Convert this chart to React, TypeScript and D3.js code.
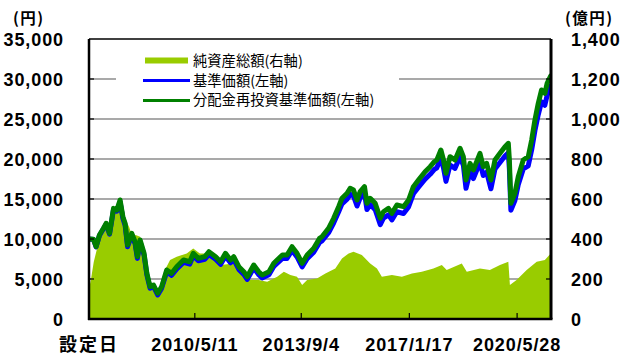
import React from "react";
import * as d3 from "d3";

// ---- data ----
const navDates = [
  "2007-01-22","2007-03-14","2007-04-13","2007-05-21","2007-07-06","2007-08-05","2007-09-13","2007-10-28","2007-12-05",
  "2008-01-11","2008-02-12","2008-03-08","2008-04-05","2008-05-23","2008-06-29","2008-07-26","2008-08-26","2008-10-10","2008-11-11","2008-12-17",
  "2009-01-26","2009-03-14","2009-04-28","2009-06-25","2009-08-20","2009-10-17",
  "2010-01-02","2010-03-15","2010-04-23","2010-06-20","2010-09-03","2010-10-18",
  "2011-01-03","2011-02-28","2011-04-25","2011-06-21","2011-07-28","2011-09-24","2011-11-20","2011-12-28",
  "2012-03-12","2012-05-08","2012-06-16","2012-09-01","2012-10-26",
  "2013-02-01","2013-03-26","2013-05-22","2013-07-18","2013-09-14","2013-11-10",
  "2014-01-24","2014-04-01","2014-04-28","2014-07-12","2014-09-08","2014-11-04","2014-12-12",
  "2015-02-08","2015-03-15","2015-04-22","2015-06-01","2015-07-07","2015-08-25","2015-09-22","2015-10-29","2015-12-25",
  "2016-02-21","2016-03-28","2016-05-24","2016-07-02","2016-08-28","2016-11-12",
  "2017-01-08","2017-03-04","2017-05-01","2017-07-15","2017-09-11","2017-10-29","2017-11-26",
  "2018-01-11","2018-02-10","2018-03-10","2018-04-25","2018-06-21","2018-08-17","2018-09-24","2018-10-24","2018-12-09",
  "2019-01-16","2019-04-01","2019-05-08","2019-06-16","2019-08-04","2019-09-19","2019-11-15",
  "2020-01-11","2020-02-18","2020-03-01","2020-03-18","2020-05-03","2020-06-10","2020-08-06","2020-10-02","2020-11-10","2020-12-17",
  "2021-01-24","2021-03-02","2021-04-09","2021-05-05","2021-06-15"
];

// 分配金再投資基準価額 (円)
const reinvValues = [
  10000,9960,9040,10500,11340,11960,10710,13830,13620,
  14875,12790,11960,9250,10710,9660,7790,9875,8210,5710,4040,
  4250,3210,4040,6125,5710,6540,
  7375,7160,8210,7580,7790,8410,
  7790,7160,8210,7375,7790,6540,5910,5290,
  6750,5910,5500,5910,6960,
  8000,8000,9040,8210,6960,8000,
  8830,10080,10290,11340,12590,14040,15090,
  15710,16340,16125,14875,15910,16540,14460,15090,14460,
  12590,13410,13830,13210,14250,14040,
  14875,16540,17375,18410,19040,19660,19875,
  21125,19875,18210,20290,19875,21340,20290,17375,19460,
  18625,20710,19040,19460,17375,19875,20710,
  21540,21960,19875,14460,15710,17790,19875,20290,22375,24875,
  26960,28625,28210,29460,30400
];

// 基準価額 (円)
const navValues = [
  10000,9940,9010,10440,11260,11860,10610,13680,13470,
  14650,12560,11730,9030,10480,9440,7580,9640,7990,5510,3850,
  4050,3010,3830,5880,5460,6270,
  7080,6860,7900,7270,7470,8080,
  7460,6830,7860,7030,7440,6200,5570,4950,
  6370,5530,5120,5520,6560,
  7580,7570,8590,7760,6510,7530,
  8340,9560,9760,10780,11990,13400,14400,
  14990,15590,15370,14120,15130,15750,13680,14300,13660,
  11800,12600,13010,12380,13410,13190,
  14010,15650,16460,17480,18090,18700,18900,
  20120,18860,17200,19250,18830,20270,19220,16330,18380,
  17550,19600,17940,18350,16280,18760,19560,
  20370,20770,18730,13600,14800,16790,18760,19150,21150,23550,
  25560,27150,26720,27950,29100
];

// 純資産総額 (億円)
const assetDates = [
  "2007-01-22","2007-02-14","2007-03-17","2007-04-28","2007-06-05","2007-08-02","2007-09-08","2007-11-04",
  "2008-01-02","2008-01-28","2008-03-15","2008-04-22","2008-06-01","2008-07-07","2008-08-26","2008-10-22","2008-11-29",
  "2009-01-26","2009-03-22","2009-06-05","2009-08-02","2009-10-17",
  "2010-02-08","2010-04-23","2010-07-08","2010-11-07",
  "2011-02-28","2011-07-28","2011-11-20",
  "2012-02-05","2012-05-08","2012-08-12","2012-12-04",
  "2013-02-18","2013-05-03","2013-07-18","2013-09-14","2013-11-10",
  "2014-03-02","2014-06-06","2014-09-27","2014-12-12",
  "2015-02-26","2015-04-22","2015-07-26","2015-10-29",
  "2016-01-14","2016-03-10","2016-07-02","2016-10-24",
  "2017-02-16","2017-06-08","2017-10-18",
  "2018-01-22","2018-03-18","2018-09-06","2018-11-02",
  "2019-04-01","2019-07-23","2019-11-15",
  "2020-02-18","2020-03-07","2020-05-22","2020-09-14",
  "2021-01-06","2021-04-09","2021-06-16"
];
const assetValues = [
  150,200,285,360,410,445,410,528,
  595,605,495,461,411,420,411,295,211,
  161,120,245,295,311,
  328,353,328,328,
  270,278,220,
  195,195,186,211,
  236,220,211,170,195,
  203,228,253,303,
  328,336,320,278,
  253,211,220,211,
  228,236,253,
  270,245,278,236,
  253,245,270,
  286,170,195,245,
  286,295,328
];

const leftTicks = [0, 5000, 10000, 15000, 20000, 25000, 30000, 35000];
const rightTicks = [0, 200, 400, 600, 800, 1000, 1200, 1400];
const xTickDates = ["2007-01-22", "2010-05-11", "2013-09-04", "2017-01-17", "2020-05-28"];
const xTickLabels = ["設定日", "2010/5/11", "2013/9/4", "2017/1/17", "2020/5/28"];
const legendLabels = ["純資産総額(右軸)", "基準価額(左軸)", "分配金再投資基準価額(左軸)"];

const parse = d3.timeParse("%Y-%m-%d");

export default function App() {
  const W = 633, H = 358;
  const L = 89, R = 551, T = 39, B = 319;
  const x = d3.scaleTime().domain([parse("2007-01-22")!, parse("2021-06-18")!]).range([L, R]);
  const yL = d3.scaleLinear().domain([0, 35000]).range([B, T]);
  const yR = d3.scaleLinear().domain([0, 1400]).range([B, T]);

  const navPts = navDates.map((d, i) => ({ d: parse(d)!, nav: navValues[i], re: reinvValues[i] }));
  const assetPts = assetDates.map((d, i) => ({ d: parse(d)!, v: assetValues[i] }));

  const area = d3.area<any>().x(p => x(p.d)).y0(yR(0)).y1(p => yR(p.v));
  const navLine = d3.line<any>().x(p => x(p.d)).y(p => yL(p.nav));
  const reLine = d3.line<any>().x(p => x(p.d)).y(p => yL(p.re));

  const numFont = "'Liberation Sans', Arial, sans-serif";
  const cjkFont = "'Noto Sans CJK JP', sans-serif";
  const fmt = d3.format(",");

  return (
    <div style={{ position: "absolute", left: 0, top: 0 }}>
      <svg width={W} height={H} style={{ display: "block", background: "#fff" }}>
        <defs>
          <clipPath id="plot"><rect x={L} y={T} width={R - L} height={B - T} /></clipPath>
        </defs>
        {/* gridlines */}
        {leftTicks.filter(t => t > 0 && t < 35000).map(t => (
          <line key={t} x1={L} x2={R} y1={yL(t)} y2={yL(t)} stroke="#8c8c8c" strokeWidth={1.5} />
        ))}
        <g clipPath="url(#plot)">
          <path d={area(assetPts) || ""} fill="#99CC00" />
          <path d={navLine(navPts) || ""} fill="none" stroke="#0000FF" strokeWidth={5} strokeLinejoin="round" strokeLinecap="round" />
          <path d={reLine(navPts) || ""} fill="none" stroke="#008000" strokeWidth={5} strokeLinejoin="round" strokeLinecap="round" />
        </g>
        {/* legend */}
        <rect x={116} y={45} width={283} height={66} fill="#fff" />
        <rect x={145} y={57.5} width={43} height={6} fill="#99CC00" />
        <line x1={143} x2={190} y1={80.5} y2={80.5} stroke="#0000FF" strokeWidth={3} />
        <line x1={143} x2={190} y1={100.5} y2={100.5} stroke="#008000" strokeWidth={3} />
        {legendLabels.map((t, i) => (
          <text key={t} x={193} y={61 + i * 19.7 + 5} fontFamily={cjkFont} fontSize={14.3} fill="#000">{t}</text>
        ))}
        {/* frame */}
        <line x1={L} x2={R} y1={T} y2={T} stroke="#000" strokeWidth={1.5} />
        <line x1={R} x2={R} y1={T} y2={B} stroke="#000" strokeWidth={3} />
        <line x1={L} x2={L} y1={T} y2={B + 1} stroke="#000" strokeWidth={2.5} />
        <line x1={L - 1} x2={R + 1.5} y1={B} y2={B} stroke="#000" strokeWidth={2.5} />
        {/* ticks */}
        {leftTicks.filter(t => t > 0 && t < 35000).map(t => (
          <line key={"lt" + t} x1={L} x2={L + 5} y1={yL(t)} y2={yL(t)} stroke="#000" strokeWidth={1.2} />
        ))}
        {rightTicks.filter(t => t > 0 && t < 1400).map(t => (
          <line key={"rt" + t} x1={R - 5} x2={R} y1={yR(t)} y2={yR(t)} stroke="#000" strokeWidth={1.2} />
        ))}
        {xTickDates.slice(1).map(d => (
          <line key={d} x1={x(parse(d)!)} x2={x(parse(d)!)} y1={B} y2={B - 6} stroke="#000" strokeWidth={1.2} />
        ))}
        {/* axis labels */}
        {leftTicks.map(t => (
          <text key={"ll" + t} x={64} y={yL(t) + 6.5} textAnchor="end" fontFamily={numFont} fontWeight="bold" fontSize={18} letterSpacing={0.9} fill="#000">{fmt(t)}</text>
        ))}
        {rightTicks.map(t => (
          <text key={"rl" + t} x={571} y={yR(t) + 6.5} textAnchor="start" fontFamily={numFont} fontWeight="bold" fontSize={18} letterSpacing={0.9} fill="#000">{fmt(t)}</text>
        ))}
        {xTickDates.map((d, i) => (
          <text key={"xl" + d} x={x(parse(d)!)} y={351} textAnchor="middle"
            fontFamily={i === 0 ? cjkFont : numFont} fontWeight="bold" fontSize={18}
            letterSpacing={i === 0 ? 2 : 0.9} fill="#000">{xTickLabels[i]}</text>
        ))}
        <text x={13} y={24} fontFamily={cjkFont} fontWeight="bold" fontSize={15.5} letterSpacing={1.5} fill="#000">(円)</text>
        <text x={565} y={24} fontFamily={cjkFont} fontWeight="bold" fontSize={15.5} letterSpacing={1.5} fill="#000">(億円)</text>
      </svg>
    </div>
  );
}
